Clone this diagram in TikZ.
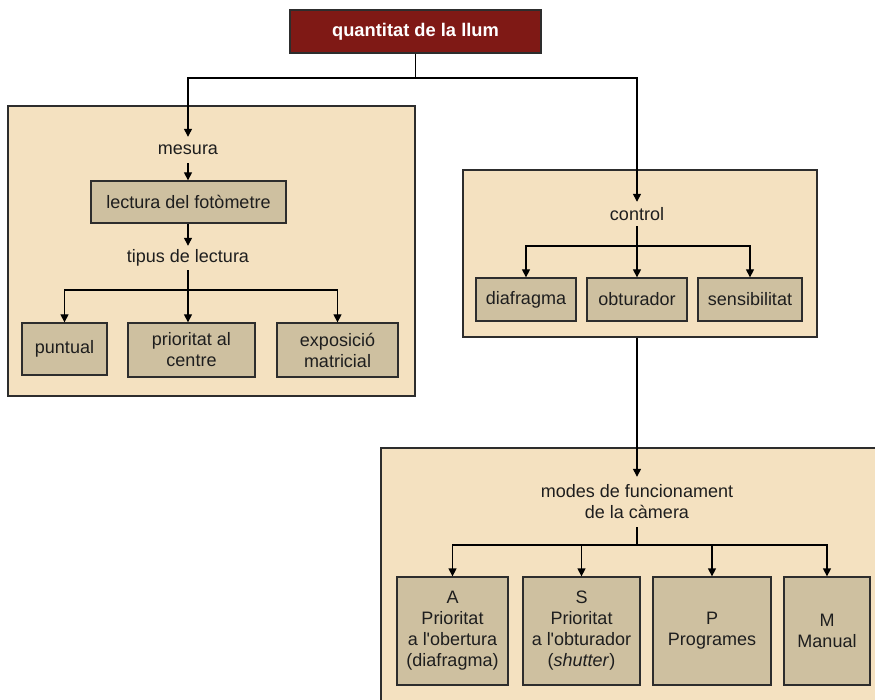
\documentclass[tikz,border=0pt]{standalone}
\usepackage{fontspec}
\setmainfont{Liberation Sans}
\newfontfamily\aposfont{Liberation Sans}
\usetikzlibrary{arrows.meta}
\definecolor{panelc}{RGB}{244,225,192}
\definecolor{boxc}{RGB}{206,192,160}
\definecolor{titlec}{RGB}{127,25,21}
\definecolor{linec}{RGB}{45,45,45}
\definecolor{textc}{RGB}{30,30,30}
\newcommand{\sq}{{\aposfont'}}
\begin{document}
\begin{tikzpicture}[x=1pt,y=-1pt,
  every node/.style={font=\fontsize{18pt}{21pt}\selectfont, text=textc, align=center, inner sep=0pt},
  panel/.style={draw=linec, fill=panelc, line width=1.3pt, rectangle},
  bx/.style={draw=linec, fill=boxc, line width=1.3pt, rectangle},
  lbl/.style={minimum height=24pt},
  conn/.style={draw=black, line width=1.3pt},
  arr/.style={conn, -{Triangle[length=8pt,width=8pt]}}]
\useasboundingbox (0,0) rectangle (875,700);
\clip (0,0) rectangle (875,700);
\fill[white] (0,0) rectangle (875,700);

% panels
\node[panel, minimum width=407pt, minimum height=290pt] (lp) at (211.5,251) {};
\node[panel, minimum width=354pt, minimum height=167pt] (cp) at (640,253.5) {};
\node[panel, minimum width=504pt, minimum height=262pt] (bp) at (633,579) {};

% title
\node[draw=linec, fill=titlec, line width=1.3pt, minimum width=251pt, minimum height=43pt,
      text=white, font=\fontsize{18.3pt}{21pt}\selectfont\bfseries] (title) at (415.5,31.5) {quantitat de la llum};

% left panel
\node[lbl, minimum height=26pt] (mesura) at (188,150) {mesura};
\node[bx, minimum width=195pt, minimum height=42pt] (lectura) at (188.5,202) {lectura del fotòmetre};
\node[lbl] (tipus) at (188,258) {tipus de lectura};
\node[bx, minimum width=85pt, minimum height=52pt] (puntual) at (64.5,349) {puntual};
\node[bx, minimum width=127pt, minimum height=54pt] (prior) at (191.5,350) {prioritat al\\centre};
\node[bx, minimum width=121pt, minimum height=54pt] (expo) at (337.5,350) {exposició\\matricial};

% control panel
\node[lbl] (control) at (637,214) {control};
\node[bx, minimum width=100pt, minimum height=43pt] (diaf) at (526,299.5) {diafragma};
\node[bx, minimum width=100pt, minimum height=43pt] (obtu) at (637,299.5) {obturador};
\node[bx, minimum width=104pt, minimum height=43pt] (sens) at (750,299.5) {sensibilitat};

% bottom panel
\node[minimum height=50pt] (modes) at (637,502) {modes de funcionament\\de la càmera};
\node[bx, minimum width=111pt, minimum height=108pt] (ma) at (452.5,631) {A\\Prioritat\\a l\sq obertura\\(diafragma)};
\node[bx, minimum width=117pt, minimum height=108pt] (ms) at (581.5,631) {S\\Prioritat\\a l\sq obturador\\(\textit{shutter})};
\node[bx, minimum width=118pt, minimum height=108pt] (mp) at (712,631) {P\\Programes};
\node[bx, minimum width=86pt, minimum height=108pt] (mm) at (827,631) {M\\Manual};

% junctions
\coordinate (jt) at (415.5,78);
\coordinate (jl) at (188,290);
\coordinate (jc) at (637,246);
\coordinate (jb) at (637,545);

% connectors
\draw[conn] (title.south) -- (jt);
\draw[arr] (jt) -| (mesura.north);
\draw[arr] (jt) -| (control.north);

\draw[arr] (mesura.south) -- (mesura.south |- lectura.north);
\draw[arr] (lectura.south -| tipus.south) -- (tipus.north);
\draw[conn] (tipus.south) -- (jl);
\draw[arr] (jl) -| (puntual.north);
\draw[arr] (jl) -- (jl |- prior.north);
\draw[arr] (jl) -| (expo.north);

\draw[conn] (control.south) -- (jc);
\draw[arr] (jc) -| (diaf.north);
\draw[arr] (jc) -- (jc |- obtu.north);
\draw[arr] (jc) -| (sens.north);

\draw[arr] (modes.north |- cp.south) -- (modes.north);
\draw[conn] (modes.south) -- (jb);
\draw[arr] (jb) -| (ma.north);
\draw[arr] (jb) -| (ms.north);
\draw[arr] (jb) -| (mp.north);
\draw[arr] (jb) -| (mm.north);
\end{tikzpicture}
\end{document}
